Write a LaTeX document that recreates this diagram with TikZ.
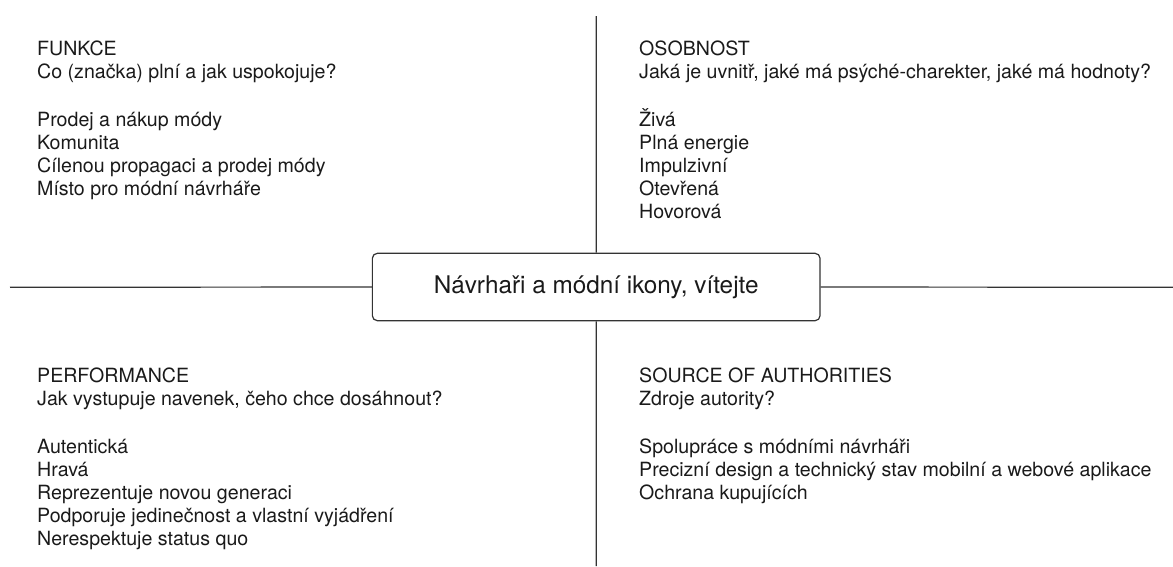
\documentclass[tikz,border=0pt]{standalone}
\usepackage{fontspec}
\setmainfont{TeX Gyre Heros}
\usepackage{tikz}

\definecolor{ink}{HTML}{1A1A1A}
\definecolor{rule}{HTML}{333333}

\tikzset{
  axis/.style={line width=1.2pt, rule},
  hub/.style={draw=rule, line width=1.2pt, rounded corners=5pt, fill=white,
    minimum width=447.7pt, minimum height=67.4pt, inner sep=0pt,
    text=ink, font=\fontsize{24.3}{28}\selectfont},
  quad/.style={anchor=north west, align=left, inner sep=0pt, text=ink,
    font=\fontsize{19.6}{22.8}\selectfont}
}

\begin{document}
\begin{tikzpicture}[x=1pt, y=-1pt]
            % Frame
            \useasboundingbox (0,0) rectangle (1173,566);

            % Centre box
            \node[hub] (hub) at (596.2,287) {Návrhaři a módní ikony, vítejte};

            % Ends of the cross
            \coordinate (top) at (596.3,16);
            \coordinate (bot) at (596.3,566);
            \coordinate (lft) at (10,287.3);
            \coordinate (rgt) at (1173,287.3);

            % Cross lines (from the ends to the box)
            \foreach \c/\a in {top/north, bot/south, lft/west, rgt/east}{
            \draw[axis] (\c) -- (hub.\a);
            }

            % Quadrant texts (top edge = cap height above first baseline)
            \node[quad] (funkce) at (37,41) {FUNKCE\\Co (značka) plní a jak uspokojuje?\\[25.5pt]
              Prodej a nákup módy\\Komunita\\Cílenou propagaci a prodej módy\\Místo pro módní návrháře};
            \node[quad] (osobnost) at (639,41) {OSOBNOST\\Jaká je uvnitř, jaké má psýché-charekter, jaké má hodnoty?\\[25.5pt]
              Živá\\Plná energie\\Impulzivní\\Otevřená\\Hovorová};
            \node[quad] (perform) at (37,368) {PERFORMANCE\\Jak vystupuje navenek, čeho chce dosáhnout?\\[25.5pt]
              Autentická\\Hravá\\Reprezentuje novou generaci\\Podporuje jedinečnost a vlastní vyjádření\\Nerespektuje status quo};
            \node[quad] (zdroje) at (639,368) {SOURCE OF AUTHORITIES\\Zdroje autority?\\[25.5pt]
              Spolupráce s módními návrháři\\Precizní design a technický stav mobilní a webové aplikace\\Ochrana kupujících};
        \end{tikzpicture}
\end{document}
